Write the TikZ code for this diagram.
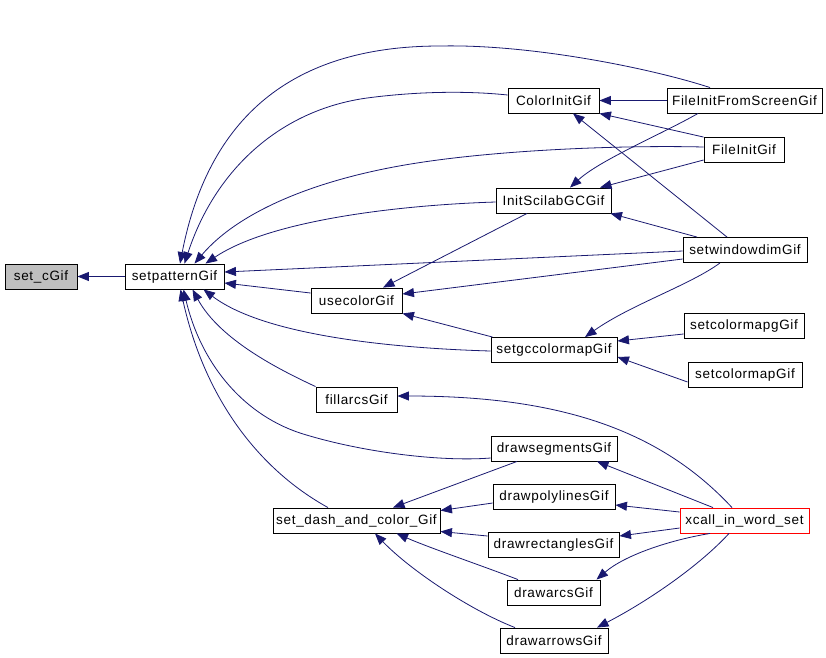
\documentclass[tikz,border=0pt]{standalone}
\usepackage{fontspec}
\setmainfont{Liberation Sans}[LetterSpace=5]
\usetikzlibrary{arrows.meta}
\definecolor{edgeblue}{HTML}{191970}
\definecolor{rootgray}{HTML}{BFBFBF}
\begin{document}
\begin{tikzpicture}[x=1pt,y=-1pt,
  fn/.style={draw=black,line width=0.9pt,minimum height=25pt,inner sep=0pt,font=\fontsize{13.5}{15}\selectfont},
  rootfn/.style={fn,fill=rootgray},
  redfn/.style={fn,draw=red},
  edge/.style={draw=edgeblue,line width=0.8pt,-{Triangle[length=11.5pt,width=9pt]}}]
\fill[white] (0,0) rectangle (826,657);
\useasboundingbox (0,0) rectangle (826,657);
% nodes
\node[rootfn,minimum width=72pt] (cgif) at (41,276.5) {set\_cGif};
\node[fn,minimum width=99pt] (spat) at (174.5,276.5) {setpatternGif};
\node[fn,minimum width=91pt] (cinit) at (553.5,100.5) {ColorInitGif};
\node[fn,minimum width=155pt] (fifs) at (744.5,100.5) {FileInitFromScreenGif};
\node[fn,minimum width=80pt] (finit) at (744,150) {FileInitGif};
\node[fn,minimum width=115pt] (isgc) at (553.5,200.5) {InitScilabGCGif};
\node[fn,minimum width=124pt] (swd) at (745,250) {setwindowdimGif};
\node[fn,minimum width=91pt] (usec) at (356.5,300.5) {usecolorGif};
\node[fn,minimum width=120pt] (scmg) at (744,326) {setcolormapgGif};
\node[fn,minimum width=126pt] (sgcc) at (554,350) {setgccolormapGif};
\node[fn,minimum width=114pt] (scm) at (745,374.5) {setcolormapGif};
\node[fn,minimum width=81pt] (farc) at (356.5,399.5) {fillarcsGif};
\node[fn,minimum width=126pt] (dseg) at (554,448.5) {drawsegmentsGif};
\node[fn,minimum width=122pt] (dpoly) at (554,496.5) {drawpolylinesGif};
\node[fn,minimum width=167pt] (sdash) at (356.5,520.5) {set\_dash\_and\_color\_Gif};
\node[redfn,minimum width=129pt] (xcall) at (744.5,520.5) {xcall\_in\_word\_set};
\node[fn,minimum width=131pt] (drect) at (553.5,544.5) {drawrectanglesGif};
\node[fn,minimum width=93pt] (darc) at (553.5,592.5) {drawarcsGif};
\node[fn,minimum width=108pt] (darrow) at (554,640.5) {drawarrowsGif};
% edges into setpatternGif / set_cGif
\draw[edge] (spat.west) -- (cgif.east);
\draw[edge] ([xshift=-34.5pt]fifs.north) .. controls (650,68) and (530,44) .. (440,46)
  .. controls (300,46) and (210,110) .. ([xshift=5.5pt]spat.north);
\draw[edge] ([yshift=5.5pt]cinit.west) .. controls (470,91) and (420,91) .. (367,98)
  .. controls (280,110) and (215,170) .. ([xshift=10pt]spat.north);
\draw[edge] ([yshift=3pt]finit.west) .. controls (620,145) and (500,150) .. (417,163)
  .. controls (320,178) and (240,210) .. ([xshift=20pt]spat.north);
\draw[edge] ([yshift=-1.5pt]isgc.west) .. controls (400,205) and (270,220) .. ([xshift=31pt]spat.north);
\draw[edge] ([yshift=-1pt]swd.west) -- ([yshift=4.5pt]spat.east);
\draw[edge] ([yshift=7.5pt]usec.west) -- ([yshift=-6.5pt]spat.east);
\draw[edge] ([yshift=-1pt]sgcc.west) .. controls (420,349) and (270,340) .. ([xshift=29pt]spat.south);
\draw[edge] (farc.north west) .. controls (280,370) and (220,340) .. ([xshift=18pt]spat.south);
\draw[edge] ([yshift=-9.5pt]dseg.west) .. controls (440,462) and (360,452) .. (300,433)
  .. controls (240,413) and (200,360) .. ([xshift=9pt]spat.south);
\draw[edge] ([xshift=-28.5pt]sdash.north) .. controls (260,470) and (205,400) .. ([xshift=6pt]spat.south);
% ColorInitGif
\draw[edge] (fifs.west) -- (cinit.east);
\draw[edge] (finit.north west) -- (cinit.south east);
\draw[edge] ([xshift=-18pt]swd.north) -- ([xshift=19.5pt]cinit.south);
% InitScilabGCGif
\draw[edge] ([xshift=-46.5pt]fifs.south) .. controls (660,135) and (600,160) .. ([xshift=16.5pt]isgc.north);
\draw[edge] ([yshift=-10pt]finit.west) -- ([xshift=46.5pt]isgc.north);
\draw[edge] ([xshift=-48pt]swd.north) -- ([xshift=-1pt]isgc.south east);
% usecolorGif
\draw[edge] ([yshift=-9pt]swd.west) -- ([yshift=6.5pt]usec.east);
\draw[edge] ([xshift=-26.5pt]isgc.south) -- ([xshift=26.5pt]usec.north);
\draw[edge] ([xshift=2pt]sgcc.north west) -- (usec.south east);
% setgccolormapGif
\draw[edge] ([xshift=-25pt]swd.south) .. controls (690,285) and (630,305) .. ([xshift=31pt]sgcc.north);
\draw[edge] ([yshift=-8pt]scmg.west) -- ([yshift=9pt]sgcc.east);
\draw[edge] ([yshift=-7.5pt]scm.west) -- ([yshift=-7pt]sgcc.east);
% xcall_in_word_set
\draw[edge] ([xshift=-12.5pt]xcall.north) .. controls (660,430) and (560,396) .. ([yshift=3.5pt]farc.east);
\draw[edge] ([xshift=-31.5pt]xcall.north) -- ([xshift=43pt]dseg.south);
\draw[edge] ([yshift=8.5pt]xcall.west) -- ([yshift=-8.5pt]dpoly.east);
\draw[edge] ([yshift=-7.5pt]xcall.west) -- ([yshift=8.5pt]drect.east);
\draw[edge] ([xshift=-34.5pt]xcall.south) .. controls (670,540) and (625,555) .. ([xshift=43pt]darc.north);
\draw[edge] ([xshift=-15.5pt]xcall.south) .. controls (700,565) and (650,600) .. ([xshift=43pt]darrow.north);
% set_dash_and_color_Gif
\draw[edge] ([xshift=-37pt]dseg.south) -- ([xshift=36.5pt]sdash.north);
\draw[edge] ([yshift=-6.5pt]dpoly.west) -- ([yshift=10pt]sdash.east);
\draw[edge] ([yshift=8.5pt]drect.west) -- ([yshift=-11pt]sdash.east);
\draw[edge] ([xshift=-35.5pt]darc.north) .. controls (480,565) and (430,548) .. ([xshift=40pt]sdash.south);
\draw[edge] ([xshift=-39pt]darrow.north) .. controls (470,610) and (410,570) .. ([xshift=18.5pt]sdash.south);
\end{tikzpicture}
\end{document}
